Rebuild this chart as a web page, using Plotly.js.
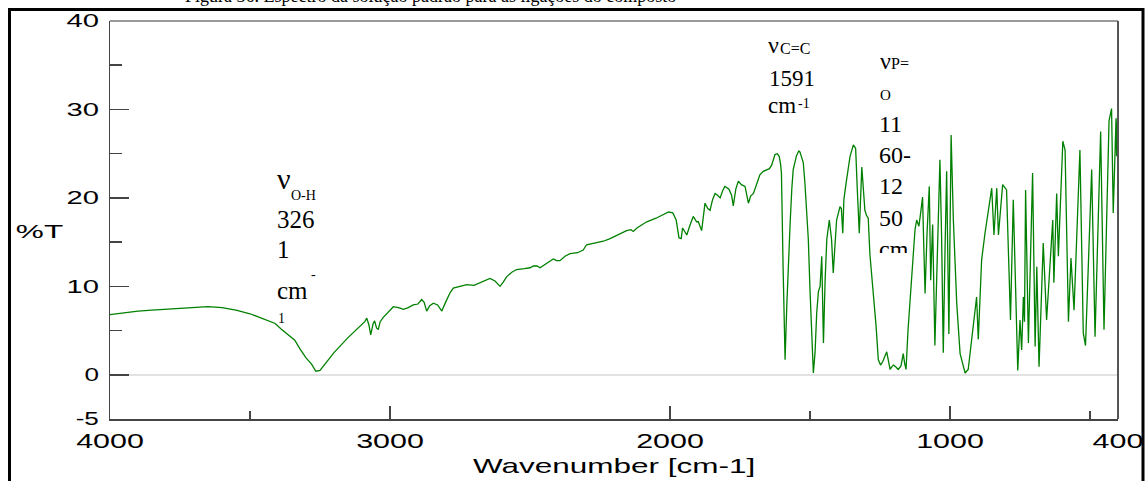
<!DOCTYPE html>
<html>
<head>
<meta charset="utf-8">
<script src="https://cdn.plot.ly/plotly-3.0.1.min.js"></script>
<style>
html,body{margin:0;padding:0;background:#fff;}
#chart{width:1145px;height:481px;}
</style>
</head>
<body>
<div id="chart"></div>
<script>
// Wavenumber (cm-1), descending
const wavenumber = [
4000,3950,3900,3850,3800,3750,3700,3650,3600,3550,3500,3450,3410,3390,3370,3340,3321,3300,3280,3265,3250,3230,3200,3150,
3107,3090,3083,3075,3069,3060,3055,3048,3042,3035,3024,3005,2988,2970,2952,2935,2917,2900,2887,2878,2869,2858,2845,2830,
2815,2800,2785,2774,2750,2726,2700,2679,2660,2643,2625,2607,2595,2583,2565,2548,2520,2500,2488,2475,2464,2440,2417,2405,
2393,2375,2357,2330,2310,2298,2270,2238,2214,2185,2155,2140,2131,2118,2107,2083,2050,2020,2005,1990,1978,1968,1960,1955,
1948,1940,1930,1917,1905,1899,1887,1880,1875,1865,1857,1848,1839,1830,1821,1812,1804,1790,1780,1774,1765,1756,1745,1732,
1725,1720,1712,1702,1690,1679,1667,1655,1645,1637,1630,1625,1617,1610,1605,1602,1596,1589,1583,1576,1571,1565,1560,1548,
1540,1536,1530,1524,1518,1506,1500,1494,1488,1482,1476,1470,1464,1458,1452,1446,1440,1431,1423,1417,1411,1405,1393,1388,
1383,1379,1371,1357,1345,1337,1331,1324,1315,1310,1304,1298,1292,1286,1274,1264,1256,1248,1240,1232,1226,1220,1214,1208,
1202,1194,1185,1175,1167,1162,1157,1150,1143,1137,1132,1125,1119,1111,1104,1098,1094,1089,1082,1074,1069,1062,1054,1046,
1036,1030,1024,1018,1012,1004,996,988,976,964,946,935,929,917,905,899,887,875,857,851,843,833,827,812,798,784,774,758,
750,744,738,734,730,720,705,696,690,682,667,655,633,629,619,613,597,589,577,568,557,536,524,516,494,482,462,450,432,423,
417,407,405,400
];
// Transmittance (%T) at each wavenumber
const transmittance = [
6.8,7.0,7.2,7.3,7.4,7.5,7.6,7.7,7.6,7.3,6.9,6.3,5.8,5.2,4.7,3.9,2.9,1.9,1.2,0.4,0.5,1.3,2.5,4.2,
5.5,6.0,6.4,5.6,4.5,5.8,6.1,5.3,5.1,6.0,6.5,7.1,7.7,7.6,7.4,7.6,7.9,8.0,8.5,8.2,7.2,7.8,8.1,7.9,
7.2,8.3,9.3,9.8,10.0,10.2,10.1,10.4,10.6,10.9,10.6,10.0,10.5,11.1,11.6,11.9,12.0,12.1,12.3,12.3,12.1,12.6,13.1,12.9,
12.9,13.4,13.7,13.8,14.1,14.7,14.9,15.1,15.4,15.8,16.3,16.4,16.2,16.6,16.8,17.3,17.7,18.2,18.4,18.3,17.5,15.5,15.4,16.6,
16.2,15.8,16.8,17.9,17.3,17.3,16.3,18.3,19.4,18.8,18.6,19.8,20.5,20.3,20.0,20.8,21.3,21.0,20.3,19.1,21.0,21.9,21.5,21.3,
20.2,19.4,20.2,20.5,21.6,22.6,23.0,23.2,23.3,23.7,24.5,24.9,25.0,24.7,23.8,22.8,12.0,1.7,7.7,14.0,17.1,21.0,23.2,24.8,
25.3,25.2,24.7,24.0,21.6,15.3,9.6,4.0,0.2,2.5,7.0,9.4,10.0,13.4,3.6,10.7,15.3,17.5,15.3,11.5,15.3,17.5,19.0,18.8,
16.0,19.8,21.7,24.7,26.0,25.6,20.9,16.0,23.5,21.3,18.6,18.0,17.7,13.6,9.6,5.5,1.7,1.1,1.5,2.2,2.6,1.6,0.6,0.9,
1.1,0.9,0.6,1.0,2.4,1.3,0.6,5.0,8.0,11.0,13.4,16.4,17.5,16.8,18.5,20.1,15.0,9.2,16.0,21.3,10.7,17.0,3.3,13.7,
24.3,15.6,2.5,13.7,23.0,4.6,27.1,17.5,8.1,2.4,0.2,0.6,2.4,5.5,8.8,4.0,13.0,16.0,19.8,21.1,15.8,21.1,15.8,21.5,20.9,6.2,19.8,0.5,
6.2,2.8,8.8,6.0,20.9,3.6,22.8,3.2,12.2,0.9,14.9,6.2,17.5,10.4,20.5,13.4,26.4,25.4,6.0,13.2,7.3,25.4,4.7,3.3,23.2,4.3,27.5,5.1,28.7,30.1,
18.3,29.0,24.7,30.9
];

const xTickVals = [4000, 3000, 2000, 1000, 400];
const xTickText = ['4000', '3000', '2000', '1000', '400'];
const xMinorVals = [3500, 1500, 500];
const yTickVals = [-5, 0, 10, 20, 30, 40];
const yTickText = ['-5', '0', '10', '20', '30', '40'];
const yMinorVals = [5, 15, 25, 35];

const titleText = 'Figura 36. Espectro da solução padrão para as ligações do composto';

// pixel helpers for text placement (plot area 110..1118 x 21..419)
const PL = 110, PR = 1118, PT = 21, PB = 419;
const px2paper = p => (p - PL) / (PR - PL);
const py2paper = p => (PB - p) / (PB - PT);

const serif = 'Liberation Serif, Times New Roman, serif';
const sans = 'Liberation Sans, Arial, sans-serif';

function txt(text, pxX, pyC, size, opts) {
  return Object.assign({
    text: text, xref: 'paper', yref: 'paper',
    x: px2paper(pxX), y: py2paper(pyC),
    xanchor: 'left', yanchor: 'middle', showarrow: false,
    font: {family: serif, size: size, color: '#000'}
  }, opts || {});
}

const annotations = [
  // title (clipped by top of page)
  txt(titleText, 183, -4, 18),
  // axis titles
  txt('%T', 39, 232, 18, {xanchor: 'center', font: {family: sans, size: 18, color: '#000'}}),
  txt('Wavenumber [cm-1]', 614, 466, 21, {xanchor: 'center', font: {family: sans, size: 21, color: '#000'}}),
  // O-H label
  txt('ν', 275, 178, 30),
  txt('O-H', 289, 195, 14),
  txt('326', 275, 219, 25),
  txt('1', 275, 249, 25),
  txt('cm', 275, 290, 25),
  txt('-', 309, 274, 14),
  txt('1', 276, 318, 14),
  // C=C label
  txt('ν', 766, 45, 24),
  txt('C=C', 778, 48, 16),
  txt('1591', 767, 78, 23),
  txt('cm', 766, 106, 23),
  txt('-1', 796, 103, 14),
  // P=O label
  txt('ν', 878, 61, 24),
  txt('P=', 889, 64, 16),
  txt('O', 878, 95, 15),
  txt('11<br>60-<br>12<br>50<br>cm', 877, 109, 24,
    {yanchor: 'top', valign: 'top', align: 'left', height: 142, width: 40})
];

const shapes = [
  // outer black frame
  {type: 'rect', xref: 'paper', yref: 'paper', x0: px2paper(9.5), x1: px2paper(1143), y0: py2paper(500), y1: py2paper(9.5),
   line: {color: '#000', width: 3}, fillcolor: 'rgba(0,0,0,0)', layer: 'below'},
  // top border of plot (grey)
  {type: 'line', xref: 'paper', yref: 'paper', x0: 0, x1: 1, y0: 1, y1: 1, line: {color: '#9a9a9a', width: 2}},
  // right border of plot
  {type: 'line', xref: 'paper', yref: 'paper', x0: 1, x1: 1, y0: 0, y1: 1, line: {color: '#555', width: 2}}
];

const data = [{
  x: wavenumber, y: transmittance, type: 'scatter', mode: 'lines',
  line: {color: '#008000', width: 1.3}, hoverinfo: 'skip'
}];

const layout = {
  width: 1145, height: 481,
  margin: {l: PL, r: 1145 - PR, t: PT, b: 481 - PB, pad: 0},
  paper_bgcolor: '#fff', plot_bgcolor: '#fff', showlegend: false,
  xaxis: {
    range: [4000, 400], showgrid: false, zeroline: false,
    showline: true, linecolor: '#444', linewidth: 1.5,
    ticks: 'inside', ticklen: 13, tickwidth: 1.5, tickcolor: '#444',
    tickmode: 'array', tickvals: xTickVals, ticktext: xTickText,
    ticklabelstandoff: 2,
    tickfont: {family: sans, size: 21, color: '#000'},
    minor: {tickmode: 'array', tickvals: xMinorVals, ticks: 'inside', ticklen: 8, tickwidth: 1.5, tickcolor: '#444', showgrid: false}
  },
  yaxis: {
    range: [-5, 40], showgrid: false,
    zeroline: true, zerolinecolor: '#e2e2e2', zerolinewidth: 2,
    showline: true, linecolor: '#444', linewidth: 1.5,
    ticks: 'inside', ticklen: 19, tickwidth: 1.5, tickcolor: '#444',
    tickmode: 'array', tickvals: yTickVals, ticktext: yTickText,
    ticklabelstandoff: 6,
    tickfont: {family: sans, size: 18, color: '#000'},
    minor: {tickmode: 'array', tickvals: yMinorVals, ticks: 'inside', ticklen: 12, tickwidth: 1.5, tickcolor: '#444', showgrid: false}
  },
  annotations: annotations,
  shapes: shapes
};

function stretch(el, factor) {
  try {
    const w = el.getComputedTextLength();
    if (w > 0) {
      el.setAttribute('textLength', (w * factor).toFixed(1));
      el.setAttribute('lengthAdjust', 'spacingAndGlyphs');
    }
  } catch (e) {}
}

Plotly.newPlot('chart', data, layout, {staticPlot: true}).then(function (gd) {
  gd.querySelectorAll('.xtick text').forEach(el => stretch(el, 1.45));
  gd.querySelectorAll('.ytick text').forEach(el => stretch(el, el.textContent.length > 1 && el.textContent.indexOf('-') < 0 ? 1.62 : 1.45));
  gd.querySelectorAll('.annotation-text').forEach(el => {
    if (el.textContent === '%T') stretch(el, 1.75);
    if (el.textContent === 'Wavenumber [cm-1]') stretch(el, 1.5);
  });
});
</script>
</body>
</html>
